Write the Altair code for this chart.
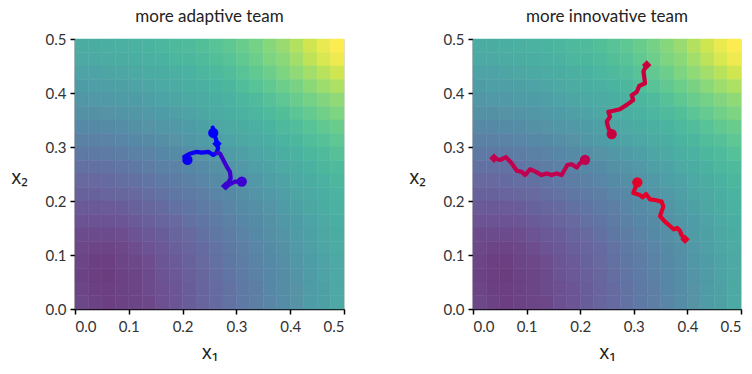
import altair as alt
import pandas as pd

# ---------------- data ----------------
# background field, 20 x 20 cells of 0.025, rows from top (x2 = 0.4875) to bottom (x2 = 0.0125)
CELL_SIZE = 0.025
CELL_X0 = [i * 0.025 for i in range(20)]
CELL_Y0 = [0.475 - i * 0.025 for i in range(20)]
FIELD = [
    [0.53, 0.53, 0.54, 0.55, 0.56, 0.57, 0.58, 0.60, 0.61, 0.63, 0.65, 0.67, 0.70, 0.73, 0.77, 0.81, 0.86, 0.91, 0.96, 1.00],
    [0.51, 0.51, 0.52, 0.53, 0.54, 0.55, 0.56, 0.58, 0.59, 0.61, 0.63, 0.65, 0.68, 0.71, 0.75, 0.78, 0.83, 0.88, 0.93, 0.97],
    [0.48, 0.48, 0.49, 0.50, 0.51, 0.52, 0.53, 0.55, 0.56, 0.58, 0.60, 0.62, 0.65, 0.68, 0.71, 0.75, 0.79, 0.83, 0.87, 0.91],
    [0.45, 0.46, 0.46, 0.47, 0.48, 0.49, 0.51, 0.52, 0.54, 0.55, 0.57, 0.59, 0.62, 0.65, 0.68, 0.71, 0.74, 0.78, 0.82, 0.85],
    [0.42, 0.43, 0.43, 0.44, 0.45, 0.46, 0.48, 0.49, 0.51, 0.52, 0.54, 0.56, 0.58, 0.61, 0.64, 0.67, 0.70, 0.73, 0.76, 0.79],
    [0.39, 0.39, 0.40, 0.41, 0.42, 0.43, 0.45, 0.46, 0.48, 0.50, 0.52, 0.54, 0.56, 0.58, 0.61, 0.63, 0.66, 0.69, 0.72, 0.75],
    [0.35, 0.35, 0.36, 0.37, 0.39, 0.40, 0.42, 0.43, 0.45, 0.47, 0.49, 0.51, 0.53, 0.55, 0.57, 0.60, 0.62, 0.65, 0.68, 0.70],
    [0.31, 0.31, 0.32, 0.33, 0.35, 0.36, 0.38, 0.40, 0.42, 0.44, 0.46, 0.48, 0.50, 0.52, 0.54, 0.57, 0.59, 0.62, 0.64, 0.67],
    [0.27, 0.27, 0.28, 0.29, 0.31, 0.32, 0.34, 0.36, 0.38, 0.40, 0.42, 0.44, 0.46, 0.49, 0.51, 0.54, 0.56, 0.59, 0.61, 0.64],
    [0.23, 0.23, 0.24, 0.25, 0.27, 0.29, 0.31, 0.32, 0.34, 0.36, 0.39, 0.41, 0.43, 0.46, 0.48, 0.51, 0.53, 0.56, 0.59, 0.61],
    [0.20, 0.20, 0.21, 0.22, 0.23, 0.25, 0.27, 0.29, 0.31, 0.33, 0.36, 0.38, 0.41, 0.43, 0.46, 0.48, 0.51, 0.53, 0.56, 0.59],
    [0.17, 0.17, 0.18, 0.19, 0.20, 0.22, 0.24, 0.26, 0.28, 0.30, 0.33, 0.35, 0.38, 0.41, 0.43, 0.46, 0.49, 0.51, 0.54, 0.57],
    [0.14, 0.13, 0.14, 0.15, 0.17, 0.19, 0.21, 0.23, 0.25, 0.28, 0.30, 0.33, 0.36, 0.38, 0.41, 0.44, 0.47, 0.50, 0.53, 0.56],
    [0.11, 0.11, 0.11, 0.12, 0.14, 0.16, 0.18, 0.20, 0.23, 0.25, 0.28, 0.31, 0.34, 0.36, 0.39, 0.42, 0.45, 0.48, 0.51, 0.54],
    [0.08, 0.08, 0.08, 0.09, 0.11, 0.13, 0.15, 0.18, 0.20, 0.23, 0.26, 0.29, 0.32, 0.35, 0.38, 0.41, 0.44, 0.47, 0.50, 0.53],
    [0.07, 0.06, 0.06, 0.07, 0.09, 0.11, 0.13, 0.16, 0.18, 0.21, 0.24, 0.27, 0.30, 0.33, 0.36, 0.39, 0.43, 0.46, 0.49, 0.52],
    [0.06, 0.04, 0.04, 0.06, 0.07, 0.09, 0.12, 0.14, 0.17, 0.20, 0.23, 0.26, 0.29, 0.32, 0.35, 0.38, 0.42, 0.45, 0.48, 0.51],
    [0.05, 0.04, 0.03, 0.05, 0.06, 0.08, 0.11, 0.13, 0.16, 0.19, 0.22, 0.25, 0.28, 0.31, 0.34, 0.37, 0.41, 0.44, 0.48, 0.51],
    [0.06, 0.04, 0.04, 0.05, 0.06, 0.08, 0.10, 0.12, 0.15, 0.18, 0.21, 0.24, 0.27, 0.30, 0.34, 0.37, 0.40, 0.44, 0.47, 0.51],
    [0.07, 0.05, 0.04, 0.05, 0.06, 0.07, 0.10, 0.12, 0.15, 0.18, 0.21, 0.24, 0.27, 0.30, 0.33, 0.37, 0.40, 0.44, 0.47, 0.51],
]

# adaptive team trajectories
A1_X = [0.209, 0.203, 0.212, 0.220, 0.226, 0.2355, 0.2478, 0.257, 0.2633]
A1_Y = [0.276, 0.282, 0.287, 0.2895, 0.291, 0.2895, 0.291, 0.285, 0.2895]
A2_X = [0.256, 0.257, 0.262, 0.2633, 0.266, 0.2633]
A2_Y = [0.336, 0.326, 0.315, 0.307, 0.298, 0.2895]
A3_X = [0.2633, 0.2695, 0.2757, 0.282, 0.288, 0.2894, 0.282, 0.2788, 0.2974, 0.310]
A3_Y = [0.2895, 0.288, 0.276, 0.2636, 0.254, 0.242, 0.2296, 0.2265, 0.2358, 0.2358]

# innovative team trajectories
R1_X = [0.0392, 0.0504, 0.0616, 0.072, 0.0815, 0.0908, 0.097, 0.1063, 0.1175, 0.128,
        0.1375, 0.1468, 0.156, 0.1655, 0.176, 0.184, 0.1935, 0.1996, 0.209]
R1_Y = [0.279, 0.276, 0.281, 0.270, 0.256, 0.254, 0.248, 0.2587, 0.254, 0.248,
        0.251, 0.248, 0.251, 0.248, 0.2667, 0.268, 0.262, 0.270, 0.276]
R2_X = [0.324, 0.318, 0.321, 0.310, 0.3055, 0.296, 0.299, 0.2868, 0.274, 0.262,
        0.2525, 0.2556, 0.2495, 0.2525, 0.2587]
R2_Y = [0.452, 0.440, 0.418, 0.413, 0.402, 0.396, 0.387, 0.378, 0.370, 0.367,
        0.365, 0.356, 0.347, 0.335, 0.324]
R3_X = [0.3066, 0.299, 0.3116, 0.3166, 0.3228, 0.330, 0.3396, 0.352, 0.355, 0.349,
        0.358, 0.3675, 0.375, 0.381, 0.386, 0.389, 0.3955]
R3_Y = [0.2346, 0.215, 0.211, 0.2068, 0.213, 0.203, 0.2018, 0.1988, 0.1895, 0.172,
        0.1617, 0.1537, 0.1475, 0.150, 0.145, 0.137, 0.129]

# end markers: (trajectory, kind, x1, x2)
A_MARKS = [("A1", "circle", 0.209, 0.276), ("A2", "circle", 0.257, 0.326),
           ("A3", "circle", 0.310, 0.236), ("A2", "diamond", 0.264, 0.306),
           ("A3", "diamond", 0.280, 0.228)]
R_MARKS = [("R1", "circle", 0.209, 0.276), ("R2", "circle", 0.2587, 0.324),
           ("R3", "circle", 0.3066, 0.2346), ("R1", "diamond", 0.0392, 0.279),
           ("R2", "diamond", 0.324, 0.452), ("R3", "diamond", 0.3955, 0.129)]

A_COLORS = {"A1": "#0c00f2", "A2": "#0000ff", "A3": "#3c00d0"}
R_COLORS = {"R1": "#c1004f", "R2": "#c9003d", "R3": "#e3002b"}

TICKS = [0.0, 0.1, 0.2, 0.3, 0.4, 0.5]

# ---------------- styling ----------------
VIRIDIS = ['#440154', '#482475', '#414487', '#355f8d', '#2a788e', '#21918c',
           '#22a884', '#44bf70', '#7ad151', '#bddf26', '#fde725']
ALPHA = 0.8


def blend(h, a=ALPHA):
    r, g, b = int(h[1:3], 16), int(h[3:5], 16), int(h[5:7], 16)
    return '#%02x%02x%02x' % tuple(round(a * c + (1 - a) * 255) for c in (r, g, b))


BLENDED = [blend(c) for c in VIRIDIS]
STOPS = [i / 10 for i in range(11)]

rows = []
for ri, y0 in enumerate(CELL_Y0):
    for ci, x0 in enumerate(CELL_X0):
        rows.append(dict(x0=round(x0, 4), x1=round(x0 + CELL_SIZE, 4),
                         y0=round(y0, 4), y1=round(y0 + CELL_SIZE, 4), v=FIELD[ri][ci]))
heat_df = pd.DataFrame(rows)


def traj_df(named):
    out = []
    for name, xs, ys in named:
        for i, (x, y) in enumerate(zip(xs, ys)):
            out.append(dict(traj=name, i=i, x=x, y=y))
    return pd.DataFrame(out)


def mark_df(lst):
    return pd.DataFrame([dict(traj=n, kind=k, x=x, y=y) for n, k, x, y in lst])


FONT = "Lato"
xscale = alt.Scale(domain=[0, 0.5], nice=False, zero=False)
yscale = alt.Scale(domain=[0, 0.5], nice=False, zero=False)

axis_common = dict(values=TICKS, format=".1f", grid=False, domainColor="black", domainWidth=1.5,
                   tickColor="black", tickSize=5, tickWidth=1.5, labelFontSize=15,
                   labelColor="#333333", labelFont=FONT, titleFont="Noto Sans",
                   titleFontSize=19, titleFontWeight="normal", titleColor="#222222")


def panel(title, named, marks, colors, width):
    xa = alt.Axis(title="x₁", titlePadding=9, labelPadding=5, **axis_common)
    ya = alt.Axis(title="x₂", titleAngle=0, titleAlign="center", titleBaseline="middle",
                  titleX=-56, titleY=138, labelPadding=4, **axis_common)
    fill_scale = alt.Scale(domain=STOPS, range=BLENDED)
    heat = alt.Chart(heat_df).mark_rect(strokeWidth=0.5).encode(
        x=alt.X("x0:Q", scale=xscale, axis=xa),
        x2="x1:Q",
        y=alt.Y("y0:Q", scale=yscale, axis=ya),
        y2="y1:Q",
        fill=alt.Fill("v:Q", scale=fill_scale, legend=None),
        stroke=alt.Stroke("v:Q", scale=fill_scale, legend=None),
    )
    cscale = alt.Scale(domain=list(colors.keys()), range=list(colors.values()))
    lines = alt.Chart(traj_df(named)).mark_line(strokeWidth=4.2, strokeJoin="round",
                                                strokeCap="round").encode(
        x=alt.X("x:Q", scale=xscale),
        y=alt.Y("y:Q", scale=yscale),
        order="i:Q",
        detail="traj:N",
        color=alt.Color("traj:N", scale=cscale, legend=None),
    )
    pts = alt.Chart(mark_df(marks)).mark_point(filled=True, opacity=1).encode(
        x=alt.X("x:Q", scale=xscale),
        y=alt.Y("y:Q", scale=yscale),
        color=alt.Color("traj:N", scale=cscale, legend=None),
        shape=alt.Shape("kind:N", scale=alt.Scale(domain=["circle", "diamond"],
                                                  range=["circle", "diamond"]), legend=None),
        size=alt.Size("kind:N", scale=alt.Scale(domain=["circle", "diamond"],
                                                range=[105, 90]), legend=None),
    )
    return alt.layer(heat, lines, pts).properties(
        width=width, height=270,
        title=alt.TitleParams(title, font=FONT, fontSize=17, fontWeight="normal",
                              color="#222222", offset=6),
    )


left = panel("more adaptive team",
             [("A1", A1_X, A1_Y), ("A2", A2_X, A2_Y), ("A3", A3_X, A3_Y)],
             A_MARKS, A_COLORS, 269)
right = panel("more innovative team",
              [("R1", R1_X, R1_Y), ("R2", R2_X, R2_Y), ("R3", R3_X, R3_Y)],
              R_MARKS, R_COLORS, 268)

chart = alt.hconcat(left, right, spacing=129, bounds="flush").resolve_scale(
    color="independent", fill="independent", stroke="independent",
    shape="independent", size="independent"
).properties(
    padding={"left": 10, "top": 7, "right": 0, "bottom": 0},
).configure_view(stroke="black", strokeWidth=1.5).configure(background="white")

chart.save("out.html", embed_options={"renderer": "svg", "actions": False})
